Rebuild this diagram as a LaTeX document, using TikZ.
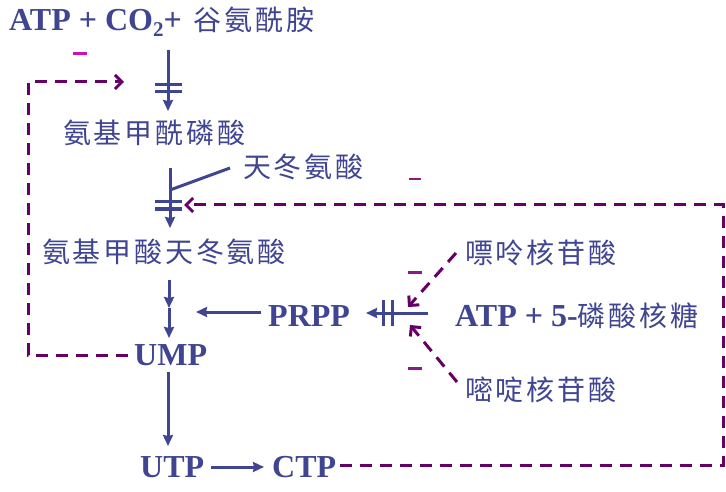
\documentclass[tikz,border=0pt]{standalone}
\usepackage{fontspec}
\setmainfont{Liberation Serif}
\newfontfamily\cjk[LetterSpace=10]{Noto Sans CJK SC}
\usetikzlibrary{arrows.meta}
\definecolor{txt}{HTML}{3F4590}
\definecolor{dsh}{HTML}{660066}
\definecolor{mns}{HTML}{8A1A8A}
\definecolor{mnsb}{HTML}{CC10BB}
\newcommand{\lat}{\fontsize{32}{32}\selectfont\bfseries}
\newcommand{\zh}{\fontsize{28}{28}\selectfont\mdseries\cjk}
\begin{document}
\begin{tikzpicture}[x=1pt,y=-1pt,
  lbl/.style={anchor=west,inner sep=0pt,text=txt},
  flow/.style={draw=txt,line width=3pt,-{Stealth[length=11pt,width=10pt,inset=1pt]}},
  plain/.style={draw=txt,line width=3pt},
  bar/.style={draw=txt,line width=3pt},
  fb/.style={draw=dsh,line width=3pt,dash pattern=on 12pt off 8pt},
  fbarrow/.style={fb,-{Straight Barb[length=7pt,width=14pt,line width=3pt]}},
  minus/.style={draw=mns,line width=3pt}]
\useasboundingbox (0,0) rectangle (726,492);
% texts
\node[lbl] (top) at (9,22) {\lat ATP + CO\raisebox{-6pt}{\fontsize{21}{21}\selectfont 2}+\hspace{4pt} \zh 谷氨酰胺};
\node[lbl] (cp) at (63,133) {\zh 氨基甲酰磷酸};
\node[lbl] (asp) at (243,167) {\zh 天冬氨酸};
\node[lbl] (caa) at (42,252) {\zh 氨基甲酸天冬氨酸};
\node[lbl] (purine) at (465,253) {\zh 嘌呤核苷酸};
\node[lbl] (prpp) at (268,316) {\lat PRPP};
\node[lbl] (atp5) at (455,316) {\lat ATP + 5-\zh 磷酸核糖};
\node[lbl] (ump) at (134,355) {\lat UMP};
\node[lbl] (pyr) at (465,390) {\zh 嘧啶核苷酸};
\node[lbl] (utp) at (140,467) {\lat UTP};
\node[lbl] (ctp) at (272,467) {\lat CTP};
% coordinates
\coordinate (a1s) at (168,50);
\coordinate (a1e) at (168,111);
\coordinate (a2s) at (170,168);
\coordinate (a2e) at (170,228);
\coordinate (j2) at (170,190);
\coordinate (aspe) at (230,168);
\coordinate (a3s) at (169,280);
\coordinate (a3e) at (169,308);
\coordinate (a4e) at (169,338);
\coordinate (pj) at (196,312);
\coordinate (prs) at (261,312);
\coordinate (r1s) at (428,313);
\coordinate (r1e) at (366,313);
\coordinate (u1s) at (168,372);
\coordinate (u1e) at (168,446);
\coordinate (utpe) at (264,467);
\coordinate (utps) at (211,467);
% main path
\draw[flow] (a1s) -- (a1e);
\draw[bar] (155,85) -- (182,85);
\draw[bar] (155,92) -- (182,92);
\draw[flow] (a2s) -- (a2e);
\draw[plain] (j2) -- (aspe);
\draw[bar] (155,202) -- (182,202);
\draw[bar] (155,209) -- (182,209);
\draw[flow] (a3s) -- (a3e);
\draw[flow] (a3e) -- (a4e);
\draw[flow] (prs) -- (pj);
\draw[flow] (r1s) -- (r1e);
\draw[bar] (383,300) -- (383,326);
\draw[bar] (392,300) -- (392,326);
\draw[flow] (u1s) -- (u1e);
\draw[flow] (utps) -- (utpe);
% feedback
\coordinate (fl1) at (128,355);
\coordinate (fl2) at (28,355);
\coordinate (fl3) at (28,82);
\coordinate (fl4) at (124,82);
\draw[fbarrow] (fl1) -- (fl2) -- (fl3) -- (fl4);
\coordinate (fr1) at (340,465);
\coordinate (fr2) at (723,465);
\coordinate (fr3) at (723,205);
\coordinate (fr4) at (184,205);
\draw[fbarrow] (fr1) -- (fr2) -- (fr3) -- (fr4);
\coordinate (pu1) at (456,253);
\coordinate (pu2) at (408,307);
\draw[fbarrow] (pu1) -- (pu2);
\coordinate (py1) at (457,382);
\coordinate (py2) at (410,325);
\draw[fbarrow] (py1) -- (py2);
% minus signs
\draw[draw=mnsb,line width=3pt] (73,54) -- (87,54);
\draw[minus,line width=2pt] (409,179) -- (421,179);
\draw[minus] (408,272) -- (422,272);
\draw[minus] (408,368) -- (422,368);
\end{tikzpicture}
\end{document}
